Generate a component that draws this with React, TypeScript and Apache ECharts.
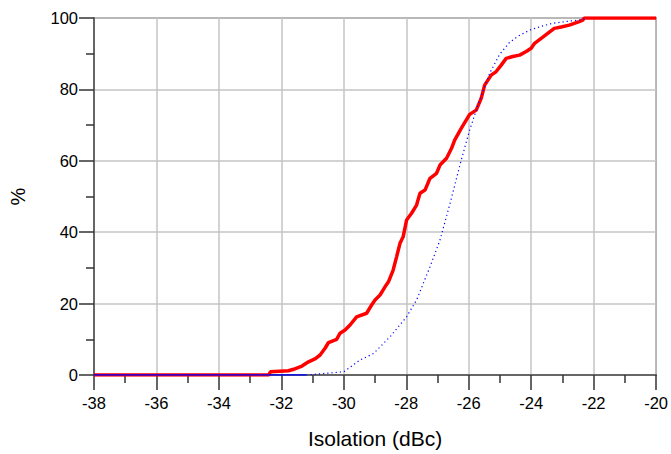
import React, { useEffect, useRef } from "react";
import * as echarts from "echarts";

const xTicks = [-38, -36, -34, -32, -30, -28, -26, -24, -22, -20];
const yTicks = [0, 20, 40, 60, 80, 100];

const redX = [-38, -32.4, -32.35, -31.77, -31.61, -31.34, -31.13, -30.91, -30.76, -30.6, -30.49, -30.23, -30.12, -29.96, -29.8, -29.59, -29.27, -29.11, -29.0, -28.84, -28.68, -28.57, -28.42, -28.31, -28.2, -28.1, -27.99, -27.83, -27.67, -27.56, -27.4, -27.24, -27.03, -26.92, -26.71, -26.55, -26.45, -26.24, -25.97, -25.76, -25.6, -25.49, -25.28, -25.12, -24.96, -24.8, -24.59, -24.37, -24.16, -24.0, -23.89, -23.68, -23.47, -23.26, -23.04, -22.78, -22.46, -22.35, -22.3, -20];
const redY = [0, 0, 0.9, 1.2, 1.6, 2.5, 3.7, 4.6, 5.6, 7.5, 9.1, 10.0, 11.7, 12.6, 14.0, 16.3, 17.3, 19.6, 21.0, 22.4, 24.7, 26.1, 29.4, 33.1, 36.9, 38.7, 43.4, 45.3, 47.6, 50.9, 51.8, 55.1, 56.5, 58.8, 60.7, 63.5, 65.8, 69.1, 73.0, 74.2, 77.5, 81.2, 84.0, 85.0, 86.8, 88.7, 89.2, 89.6, 90.6, 91.5, 92.9, 94.3, 95.7, 97.1, 97.5, 98.0, 99.0, 99.4, 100, 100];

const blueX = [-31.2, -30.0, -29.48, -29.05, -28.52, -27.99, -27.67, -27.24, -26.92, -26.6, -26.24, -25.97, -25.65, -25.33, -25.01, -24.69, -24.4, -24.05, -23.63, -23.32, -22.9, -22.4, -22.2];
const blueY = [0, 0.9, 4.2, 6.0, 10.7, 16.3, 21.0, 30.3, 37.8, 48.0, 60.2, 68.6, 77.0, 84.5, 89.8, 93.2, 95.0, 96.6, 97.8, 98.5, 99.0, 99.5, 100];

const blueLowX = [-38, -31.2];
const blueLowY = [0, 0];
const blueHighX = [-22.2, -20];
const blueHighY = [100, 100];

const xName = "Isolation (dBc)";
const yName = "%";

const zip = (xs: number[], ys: number[]) => xs.map((x, i) => [x, ys[i]]);

export default function App() {
  const ref = useRef<HTMLDivElement>(null);
  useEffect(() => {
    if (!ref.current) return;
    const chart = echarts.init(ref.current, undefined, { renderer: "svg" });
    const font = "'Liberation Sans', Arial, sans-serif";
    chart.setOption({
      animation: false,
      backgroundColor: "#ffffff",
      grid: {
        left: 93,
        right: 14,
        top: 18,
        bottom: 79,
        show: true,
        borderColor: "#707070",
        borderWidth: 1.5,
      },
      xAxis: {
        type: "value",
        min: xTicks[0],
        max: xTicks[xTicks.length - 1],
        interval: 2,
        name: xName,
        nameLocation: "middle",
        nameGap: 53,
        nameTextStyle: { fontSize: 21, color: "#000", fontFamily: font },
        axisLine: { show: true, onZero: false, lineStyle: { color: "#666", width: 2 } },
        axisTick: { show: true, inside: false, length: 15, lineStyle: { color: "#333", width: 1.5 } },
        minorTick: { show: true, splitNumber: 2, length: 8, lineStyle: { color: "#333", width: 1.5 } },
        axisLabel: { fontSize: 16.5, color: "#000", fontFamily: font, margin: 19 },
        splitLine: { show: true, lineStyle: { color: "#c4c4c4", width: 1.5 } },
      },
      yAxis: {
        type: "value",
        min: yTicks[0],
        max: yTicks[yTicks.length - 1],
        interval: 20,
        name: yName,
        nameLocation: "middle",
        nameGap: 66,
        nameRotate: 90,
        nameTextStyle: { fontSize: 20, color: "#000", fontFamily: font },
        axisLine: { show: true, onZero: false, lineStyle: { color: "#666", width: 2 } },
        axisTick: { show: true, inside: false, length: 15, lineStyle: { color: "#333", width: 1.5 } },
        minorTick: { show: true, splitNumber: 2, length: 8, lineStyle: { color: "#333", width: 1.5 } },
        axisLabel: { fontSize: 16.5, color: "#000", fontFamily: font, margin: 16 },
        splitLine: { show: true, lineStyle: { color: "#c4c4c4", width: 1.5 } },
      },
      series: [
        {
          type: "line",
          data: zip(redX, redY),
          showSymbol: false,
          symbol: "none",
          lineStyle: { color: "#ff0000", width: 3.5 },
          z: 3,
        },
        {
          type: "line",
          data: zip(blueX, blueY),
          showSymbol: false,
          symbol: "none",
          lineStyle: { color: "#0000ff", width: 1.2, type: [1.2, 3] },
          z: 4,
        },
        {
          type: "line",
          data: zip(blueLowX, blueLowY),
          showSymbol: false,
          symbol: "none",
          lineStyle: { color: "#0000ff", width: 1.5 },
          z: 4,
        },
        {
          type: "line",
          data: zip(blueHighX, blueHighY),
          showSymbol: false,
          symbol: "none",
          lineStyle: { color: "#0000ff", width: 1.5 },
          z: 2,
        },
      ],
    });
    return () => chart.dispose();
  }, []);
  return (
    <div
      ref={ref}
      style={{ position: "fixed", left: 0, top: 0, width: 671, height: 454 }}
    />
  );
}
